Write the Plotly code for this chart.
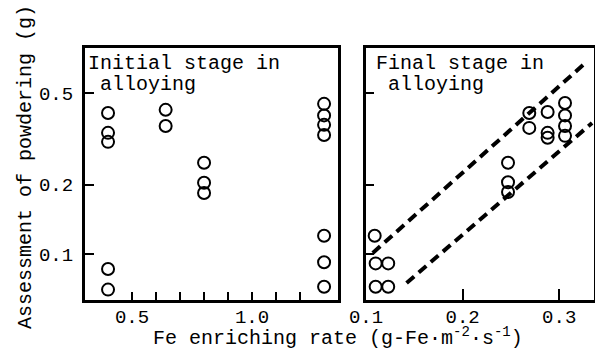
import plotly.graph_objects as go

# ---- data ----
init_x = [0.40, 0.40, 0.40, 0.40, 0.40,
          0.64, 0.64,
          0.80, 0.80, 0.80,
          1.30, 1.30, 1.30, 1.30, 1.30, 1.30, 1.30]
init_y = [0.41, 0.336, 0.307, 0.086, 0.070,
          0.423, 0.36,
          0.249, 0.204, 0.184,
          0.449, 0.40, 0.364, 0.329, 0.12, 0.092, 0.072]

final_x = [0.109, 0.110, 0.123, 0.110, 0.123,
           0.247, 0.247, 0.247,
           0.269, 0.269,
           0.288, 0.288, 0.288,
           0.306, 0.306, 0.306, 0.306]
final_y = [0.12, 0.091, 0.091, 0.072, 0.072,
           0.249, 0.205, 0.186,
           0.41, 0.353,
           0.414, 0.336, 0.32,
           0.453, 0.40, 0.36, 0.326]

upper_x = [0.107, 0.327]
upper_y = [0.101, 0.676]
lower_x = [0.142, 0.334]
lower_y = [0.0748, 0.371]

left_xticks = [0.5, 0.6, 0.7, 0.8, 0.9, 1.0, 1.1, 1.2]
left_xticktext = ["0.5", "", "", "", "", "1.0", "", ""]
right_xticks = [0.1, 0.2, 0.3]
right_xticktext = ["0.1", "0.2", "0.3"]
yticks = [0.1, 0.2, 0.5]
yticktext = ["0.1", "0.2", "0.5"]

FONT = "Liberation Mono"
W, H = 595, 354

def px(x):
    return x / W

def py(y):
    return (H - y) / H

fig = go.Figure()

marker = dict(symbol="circle-open", size=12, color="black", line=dict(width=2, color="black"))

fig.add_trace(go.Scatter(x=init_x, y=init_y, mode="markers", marker=marker,
                         xaxis="x", yaxis="y", showlegend=False))
fig.add_trace(go.Scatter(x=final_x, y=final_y, mode="markers", marker=marker,
                         xaxis="x2", yaxis="y2", showlegend=False))
for lx, ly in [(upper_x, upper_y), (lower_x, lower_y)]:
    fig.add_trace(go.Scatter(x=lx, y=ly, mode="lines",
                             line=dict(color="black", width=4, dash="10px,6px"),
                             xaxis="x2", yaxis="y2", showlegend=False))

ydom = [py(300), py(48)]
axis_common = dict(showline=True, linecolor="black", linewidth=3, mirror=True,
                   showgrid=False, zeroline=False, ticks="inside", tickcolor="black",
                   tickwidth=1.5, automargin=False,
                   tickfont=dict(family=FONT, size=19, color="black"))

fig.update_layout(
    width=W, height=H,
    margin=dict(l=0, r=0, t=0, b=0),
    paper_bgcolor="white", plot_bgcolor="white",
    xaxis=dict(domain=[px(85), px(338)], range=[0.304, 1.358],
               tickvals=left_xticks, ticktext=left_xticktext, ticklen=8,
               ticklabelstandoff=-3, anchor="y", **axis_common),
    yaxis=dict(domain=ydom, type="log", range=[-1.2, -0.105],
               tickvals=yticks, ticktext=yticktext, ticklen=9,
               ticklabelstandoff=5, anchor="x", **axis_common),
    xaxis2=dict(domain=[px(366), px(594)], range=[0.1, 0.336],
                tickvals=right_xticks, ticktext=right_xticktext, ticklen=11,
                ticklabelstandoff=-3, anchor="y2", **axis_common),
    yaxis2=dict(domain=ydom, type="log", range=[-1.2, -0.105],
                tickvals=yticks, showticklabels=False, ticklen=8,
                anchor="x2", **axis_common),
)

ann_font = dict(family=FONT, size=20, color="black")
for xl, l1, l2 in [(86, "Initial stage in", " alloying"), (374, "Final stage in", " alloying")]:
    fig.add_annotation(xref="paper", yref="paper", x=px(xl), y=py(50), xanchor="left", yanchor="top",
                       text=l1, showarrow=False, align="left", font=ann_font)
    fig.add_annotation(xref="paper", yref="paper", x=px(xl), y=py(71), xanchor="left", yanchor="top",
                       text=l2.replace(" ", "&nbsp;"), showarrow=False, align="left", font=ann_font)
fig.add_annotation(xref="paper", yref="paper", x=px(25), y=py(167), xanchor="center", yanchor="middle",
                   text="Assessment of powdering (g)", textangle=-90, showarrow=False, font=ann_font)
fig.add_annotation(xref="paper", yref="paper", x=px(338), y=py(352), xanchor="center", yanchor="bottom",
                   text="Fe enriching rate (g-Fe·m<sup>-2</sup>·s<sup>-1</sup>)", showarrow=False, font=ann_font)

fig.write_html("out.html", config={"displayModeBar": False},
               post_script="document.body.style.margin='0px';")
